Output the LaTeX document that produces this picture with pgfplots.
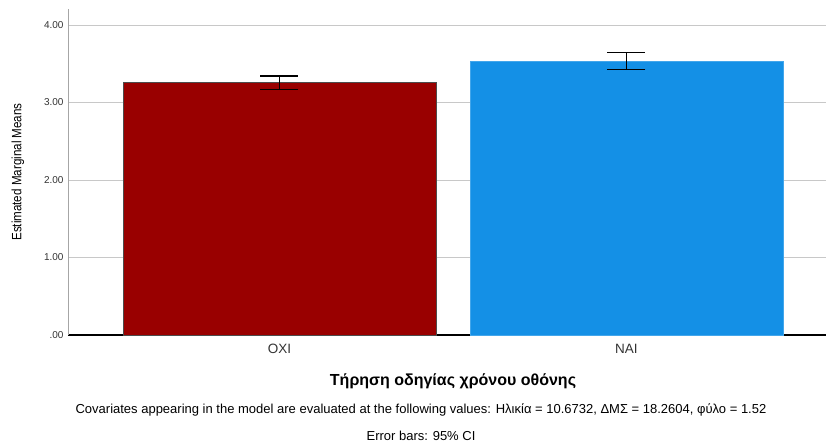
\documentclass[border=0pt]{standalone}
\usepackage{fontspec}
\setmainfont{Liberation Sans}
\newfontfamily\narrow[FakeStretch=0.86]{Liberation Sans}
\usepackage{pgfplots}
\pgfplotsset{compat=1.18}
\definecolor{barred}{HTML}{990000}
\definecolor{barblue}{HTML}{1490E6}
\definecolor{gridgray}{HTML}{C8C8C8}
\definecolor{txtgray}{HTML}{333333}
\begin{document}
\begin{tikzpicture}[x=1pt,y=1pt]
\useasboundingbox (-68,-108) rectangle (759,335);
\begin{axis}[
  at={(0,0)}, anchor=south west,
  scale only axis, width=758pt, height=326pt,
  xmin=-0.6095, xmax=1.575, ymin=0, ymax=4.206,
  axis x line=bottom, axis y line=left,
  x axis line style={black, line width=2.6pt, -},
  y axis line style={gray!70, line width=0.8pt, -},
  xtick={0,1}, xticklabels={OXI,NAI},
  ytick={0,1,2,3,4}, yticklabels={.00,1.00,2.00,3.00,4.00},
  major tick length=0pt,
  ymajorgrids, major grid style={gridgray, line width=0.8pt},
  tick label style={font=\fontsize{10}{11}\selectfont, text=txtgray},
  xticklabel style={font=\fontsize{13.5}{14}\selectfont, text=txtgray, yshift=-6pt},
  yticklabel style={xshift=-1pt},
  /pgf/number format/assume math mode=true,
  clip=false,
]
\addplot[ybar, bar width=0.902, fill=barred, draw=black!70, line width=0.6pt,
  error bars/.cd, y dir=both, y explicit,
  error bar style={black, line width=1.3pt},
  error mark options={rotate=90, mark size=19pt, line width=1.3pt, black}]
  coordinates {(0,3.255) +- (0,0.088)};
\addplot[ybar, bar width=0.902, fill=barblue, draw=barblue!80!white, line width=0.6pt,
  error bars/.cd, y dir=both, y explicit,
  error bar style={black, line width=1.3pt},
  error mark options={rotate=90, mark size=19pt, line width=1.3pt, black}]
  coordinates {(1,3.535) +- (0,0.107)};
\end{axis}
\node[rotate=90, font=\narrow\fontsize{13.5}{14}\selectfont] at (-50,163) {Estimated Marginal Means};
\node[font=\bfseries\fontsize{16}{17}\selectfont] at (385,-46) {Τήρηση οδηγίας χρόνου οθόνης};
\node[font=\fontsize{13}{14}\selectfont] at (353,-75) {Covariates appearing in the model are evaluated at the following values: Ηλικία = 10.6732, ΔΜΣ = 18.2604, φύλο = 1.52};
\node[font=\fontsize{13}{14}\selectfont] at (353,-101) {Error bars: 95\% CI};
\end{tikzpicture}
\end{document}
